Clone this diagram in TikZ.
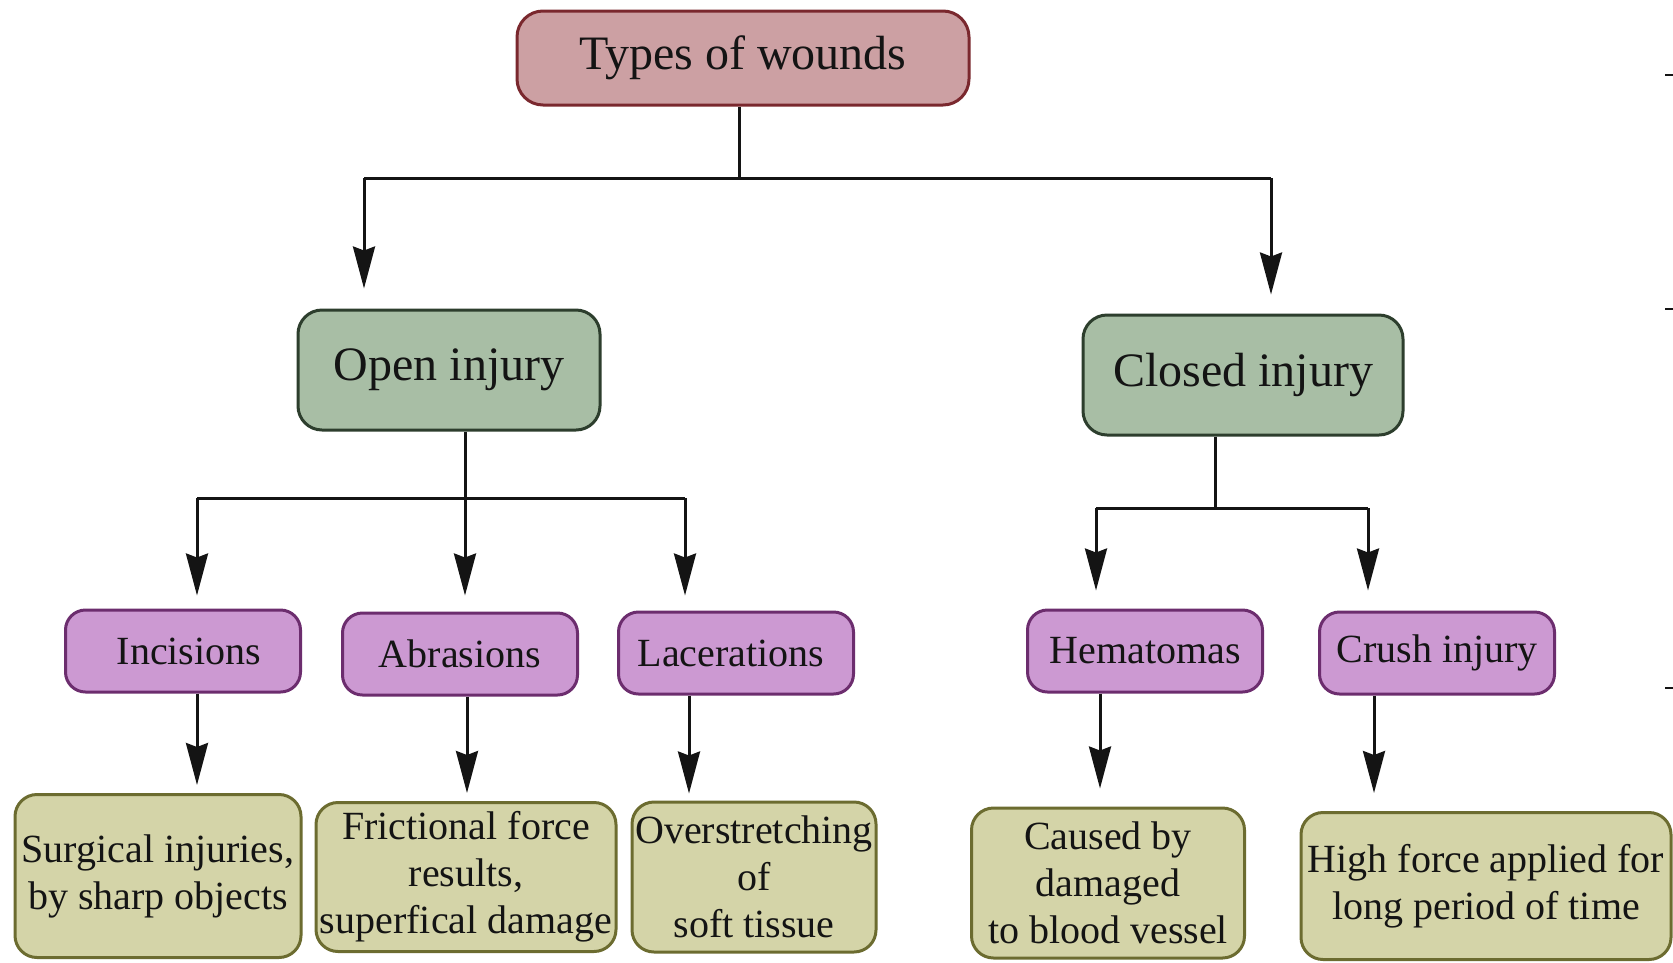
\documentclass[tikz,border=0pt]{standalone}
\usepackage{fontspec}
\setmainfont{Liberation Serif}
\usetikzlibrary{arrows.meta,calc}
\definecolor{topfill}{RGB}{204,160,163}
\definecolor{topdraw}{RGB}{122,40,46}
\definecolor{grnfill}{RGB}{168,190,165}
\definecolor{grndraw}{RGB}{45,62,45}
\definecolor{purfill}{RGB}{204,153,210}
\definecolor{purdraw}{RGB}{108,45,110}
\definecolor{olvfill}{RGB}{212,212,168}
\definecolor{olvdraw}{RGB}{108,108,48}
\definecolor{inkc}{RGB}{20,20,20}
\begin{document}
\begin{tikzpicture}[x=1pt,y=-1pt,
  box/.style={rectangle, rounded corners=22pt, line width=3pt, inner sep=0pt, align=center, text=inkc},
  topbox/.style={box, fill=topfill, draw=topdraw, minimum width=452pt, minimum height=94pt, rounded corners=26pt, font=\fontsize{48}{56}\selectfont},
  grnbox/.style={box, fill=grnfill, draw=grndraw, minimum height=120pt, rounded corners=24pt, font=\fontsize{48}{56}\selectfont},
  purbox/.style={box, fill=purfill, draw=purdraw, minimum width=235pt, minimum height=82pt, rounded corners=20pt, font=\fontsize{40}{47}\selectfont},
  olvbox/.style={box, fill=olvfill, draw=olvdraw, rounded corners=22pt, font=\fontsize{40}{47}\selectfont},
  conn/.style={line width=3pt, draw=inkc},
  arr/.style={conn, -{Stealth[length=42pt,width=22pt,inset=4pt]}},
  edgemark/.style={line width=2pt, draw=inkc}
]
\useasboundingbox (0,0) rectangle (1673,962);
\fill[white] (0,0) rectangle (1673,962);

% boxes
\node[topbox] (top) at (743,58) {Types of wounds};
\node[grnbox, minimum width=302pt] (open) at (449,370) {Open injury};
\node[grnbox, minimum width=320pt] (closed) at (1243,375) {Closed injury};

\node[purbox] (inc) at (183,651) {\hspace*{12pt}Incisions};
\node[purbox] (abr) at (460,654) {Abrasions};
\node[purbox] (lac) at (736,653) {Lacerations\hspace*{10pt}};
\node[purbox] (hem) at (1145,651) {Hematomas};
\node[purbox] (cru) at (1437,653) {Crush injury};

\node[olvbox, minimum width=286pt, minimum height=163pt] (surg) at (158,876) {Surgical injuries,\\by sharp objects};
\node[olvbox, minimum width=300pt, minimum height=149pt] (fric) at (466,877) {Frictional force\\results,\\superfical damage};
\node[olvbox, minimum width=244pt, minimum height=150pt] (over) at (754,877) {Overstretching\\of\\soft tissue};
\node[olvbox, minimum width=273pt, minimum height=150pt] (caus) at (1108,883) {Caused by\\damaged\\to blood vessel};
\node[olvbox, minimum width=370pt, minimum height=147pt] (high) at (1486,886) {High force applied for\\long period of time};

% level 1 connectors
\coordinate (j0) at (739,178);
\coordinate (jl) at (364,178);
\coordinate (jr) at (1271,178);
\draw[conn] (top.south -| j0) -- (j0);
\draw[conn] (jl) -- (jr);
\draw[arr, shorten >=20pt] (jl) -- (open.north -| jl);
\draw[arr, shorten >=19pt] (jr) -- (closed.north -| jr);

% open injury connectors
\coordinate (o0) at (465,498);
\coordinate (o1) at (197,498);
\coordinate (o2) at (465,498);
\coordinate (o3) at (685,498);
\draw[conn] (open.south -| o0) -- (o0);
\draw[conn] (o1) -- (o3);
\draw[arr, shorten >=13pt] (o1) -- (inc.north -| o1);
\draw[arr, shorten >=16pt] (o2) -- (abr.north -| o2);
\draw[arr, shorten >=15pt] (o3) -- (lac.north -| o3);

% closed injury connectors
\coordinate (c0) at (1215,508);
\coordinate (c1) at (1096,508);
\coordinate (c2) at (1368,508);
\draw[conn] (closed.south -| c0) -- (c0);
\draw[conn] (c1) -- (c2);
\draw[arr, shorten >=18pt] (c1) -- (hem.north -| c1);
\draw[arr, shorten >=20pt] (c2) -- (cru.north -| c2);

% purple to olive
\coordinate (a1) at (197,0);
\coordinate (a2) at (467,0);
\coordinate (a3) at (689,0);
\coordinate (a4) at (1100,0);
\coordinate (a5) at (1374,0);
\draw[arr, shorten >=8pt] (inc.south -| a1) -- (surg.north -| a1);
\draw[arr, shorten >=8pt] (abr.south -| a2) -- (fric.north -| a2);
\draw[arr, shorten >=7pt] (lac.south -| a3) -- (over.north -| a3);
\draw[arr, shorten >=18pt] (hem.south -| a4) -- (caus.north -| a4);
\draw[arr, shorten >=18pt] (cru.south -| a5) -- (high.north -| a5);

% small marks at the right edge
\draw[edgemark] (1665,75) -- (1673,75);
\draw[edgemark] (1665,309) -- (1673,309);
\draw[edgemark] (1665,688) -- (1673,688);
\end{tikzpicture}
\end{document}
